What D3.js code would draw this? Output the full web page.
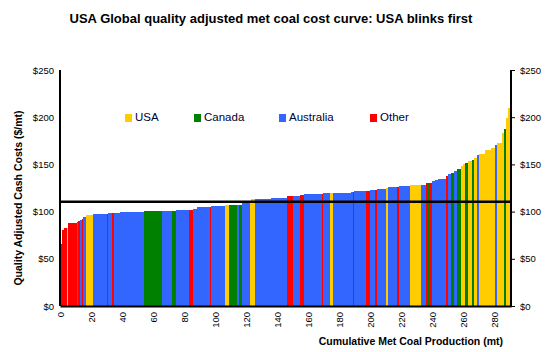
<!DOCTYPE html>
<html>
<head>
<meta charset="utf-8">
<script src="https://cdn.jsdelivr.net/npm/d3@7"></script>
<style>
  body { margin: 0; background: #fff; }
  text { font-family: "Liberation Sans", Arial, sans-serif; }
</style>
</head>
<body>
<div id="chart"></div>
<script>
// 成本曲线数据 (按成本排序的矿山)
const regions = ["O","O","O","U","O","A","O","A","O","A","U","A","O","A","O","A","A","C","A","C",
  "A","O","A","A","O","A","U","C","A","C","A","U","U","A","A","O","A","O","A","O",
  "A","U","A","A","O","A","O","A","O","A","U","A","O","A","U","A","O","C","O","A",
  "A","A","A","O","A","C","A","C","U","U","C","U","C","U","A","U","U","U","A","U",
  "U","C","U","U"];
const widths = [1.3,1.3,2.1,0.5,5.6,1.0,1.1,1.0,1.1,1.5,4.6,9.4,0.5,2.6,1.0,3.9,15.7,11.8,6.3,2.7,
  8.2,2.8,2.6,8.2,0.5,9.0,2.9,4.8,1.1,2.0,5.2,1.0,2.3,10.3,10.6,3.9,4.1,2.9,11.3,0.6,
  4.9,1.7,11.6,1.7,0.5,7.9,2.2,3.6,1.3,5.8,1.1,5.8,1.5,6.7,7.1,3.0,0.9,1.9,1.1,2.1,
  2.2,2.6,2.1,1.3,2.2,2.1,2.1,2.2,1.5,0.9,1.9,2.6,1.7,1.5,1.5,3.9,3.9,2.9,0.9,3.0,
  1.8,1.2,1.3,1.3];
const costs = [66,81,82.5,83,87.6,89.5,90.5,91.5,92.5,94,96.7,97,97.5,98,98.2,98.5,99.6,100.3,100.4,100.5,
  101.7,101.8,103,104.7,105,106,106.6,106.7,107,107.5,108.6,110,113,113.3,114.5,116,116.5,118,118.5,119,
  119.4,119.5,119.6,120.4,120.8,121.5,122.2,122.9,123.2,123.6,124.5,125.7,126.2,127,127.8,128,129.8,130.6,130.8,132,
  133.5,134.2,135,137.7,139.8,141.2,143.3,144.8,148.3,150,151.1,153.2,154.7,156.8,159.6,161,165.3,167.7,170.2,172.3,
  183,187.8,198.8,209.4];

const legendKeys = ["U","C","A","O"];
const legendNames = ["USA","Canada","Australia","Other"];
const regionColors = ["#FFCC00","#008000","#3366FF","#FF0000"];
const xTicks = [0,20,40,60,80,100,120,140,160,180,200,220,240,260,280];
const yTicks = [0,50,100,150,200,250];
const priceLine = 110.5;

const width = 549, height = 352;
const margin = { left: 60, right: 38, top: 70, bottom: 46 };

const svg = d3.select('#chart').append('svg')
  .attr('width', width)
  .attr('height', height);

const x = d3.scaleLinear().domain([0, 290.8]).range([margin.left, width - margin.right]);
const y = d3.scaleLinear().domain([0, 250]).range([height - margin.bottom, margin.top]);
const color = d3.scaleOrdinal().domain(legendKeys).range(regionColors);

// 累计产量
let cum = 0;
const bars = widths.map((w, i) => {
  const d = { x0: cum, x1: cum + w, cost: costs[i], region: regions[i] };
  cum += w;
  return d;
});

// 柱子
svg.append('g')
  .selectAll('rect')
  .data(bars)
  .enter().append('rect')
  .attr('x', d => x(d.x0))
  .attr('width', d => Math.max(0.6, x(d.x1) - x(d.x0)))
  .attr('y', d => y(d.cost))
  .attr('height', d => y(0) - y(d.cost))
  .attr('fill', d => color(d.region))
  .attr('shape-rendering', 'crispEdges');

// 价格线
svg.append('line')
  .attr('x1', x(0)).attr('x2', x.range()[1])
  .attr('y1', y(priceLine)).attr('y2', y(priceLine))
  .attr('stroke', '#000')
  .attr('stroke-width', 2.5);

// 坐标轴
const leftAxis = svg.append('g')
  .attr('transform', `translate(${margin.left},0)`)
  .call(d3.axisLeft(y).tickValues(yTicks).tickSize(0).tickPadding(6).tickFormat(d => '$' + d));
const rightAxis = svg.append('g')
  .attr('transform', `translate(${width - margin.right},0)`)
  .call(d3.axisRight(y).tickValues(yTicks).tickSize(4).tickPadding(5).tickFormat(d => '$' + d));
const bottomAxis = svg.append('g')
  .attr('transform', `translate(0,${height - margin.bottom})`)
  .call(d3.axisBottom(x).tickValues(xTicks).tickSize(0).tickFormat(d3.format('d')));

[leftAxis, rightAxis, bottomAxis].forEach(a => {
  a.select('.domain').attr('stroke', '#000').attr('stroke-width', 2);
  a.selectAll('text').attr('font-size', 9.5).attr('fill', '#000');
});
rightAxis.select('.domain').attr('d', `M0,${y(250)}V${y(0)}`);
leftAxis.select('.domain').attr('d', `M0,${y(250)}V${y(0)}`);

bottomAxis.selectAll('text')
  .attr('transform', 'rotate(-90)')
  .attr('text-anchor', 'end')
  .attr('x', -6)
  .attr('y', 0)
  .attr('dy', '0.35em');

// 标题
svg.append('text')
  .attr('x', 271).attr('y', 23)
  .attr('text-anchor', 'middle')
  .attr('font-size', 13)
  .attr('font-weight', 'bold')
  .text('USA Global quality adjusted met coal cost curve: USA blinks first');

svg.append('text')
  .attr('transform', `translate(22,${(y(0) + y(250)) / 2 + 10}) rotate(-90)`)
  .attr('text-anchor', 'middle')
  .attr('font-size', 10.5)
  .attr('font-weight', 'bold')
  .text('Quality Adjusted Cash Costs ($/mt)');

svg.append('text')
  .attr('x', 503).attr('y', 345)
  .attr('text-anchor', 'end')
  .attr('font-size', 10.5)
  .attr('font-weight', 'bold')
  .text('Cumulative Met Coal Production (mt)');

// 图例
const legendX = [125, 194, 279, 370];
const legend = svg.append('g')
  .selectAll('g')
  .data(legendKeys)
  .enter().append('g')
  .attr('transform', (d, i) => `translate(${legendX[i]},114)`);
legend.append('rect')
  .attr('width', 7).attr('height', 8)
  .attr('fill', d => color(d));
legend.append('text')
  .attr('x', 10).attr('y', 7)
  .attr('font-size', 11.5)
  .attr('fill', '#000033')
  .text((d, i) => legendNames[i]);
</script>
</body>
</html>
